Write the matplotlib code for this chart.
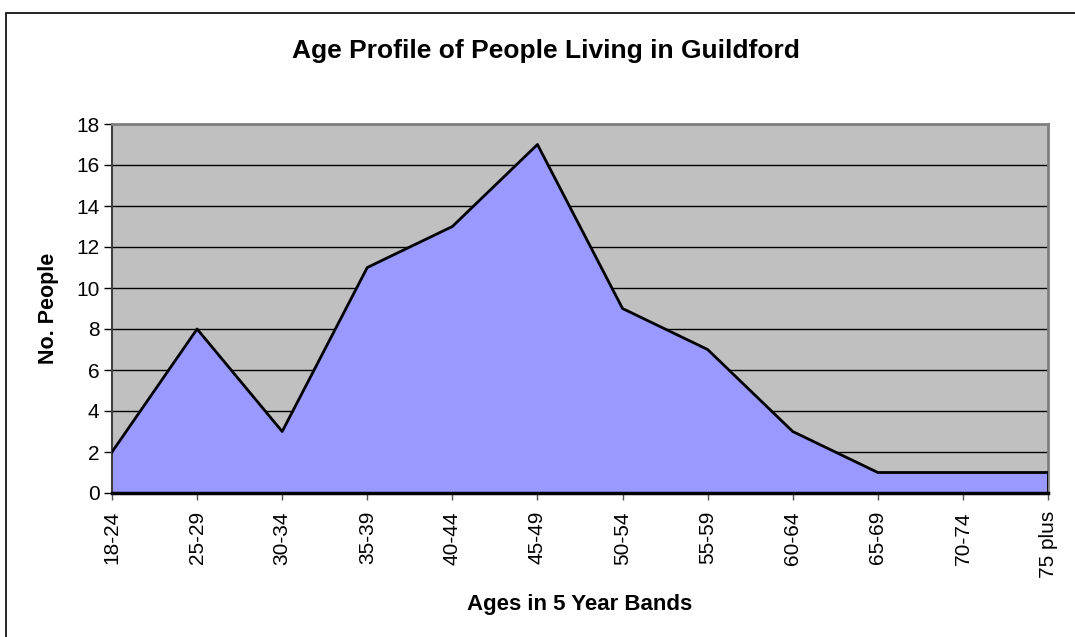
import matplotlib.pyplot as plt
from matplotlib.patches import Rectangle

plt.rcParams['font.family'] = ['Liberation Sans', 'DejaVu Sans']

age_bands = ['18-24', '25-29', '30-34', '35-39', '40-44', '45-49',
             '50-54', '55-59', '60-64', '65-69', '70-74', '75 plus']
people = [2, 8, 3, 11, 13, 17, 9, 7, 3, 1, 1, 1]
y_ticks = [0, 2, 4, 6, 8, 10, 12, 14, 16, 18]

fig = plt.figure(figsize=(10.75, 6.37), dpi=100)
ax = fig.add_axes([112 / 1075, 1 - 493 / 637, (1048 - 112) / 1075, (493 - 124) / 637])

# outer chart frame (runs off the right/bottom edge of the picture)
fig.patches.append(Rectangle((6 / 1075, -0.05), 1.2, 1 - 13 / 637 + 0.05,
                             transform=fig.transFigure, fill=False,
                             edgecolor='black', linewidth=1.2))

x = list(range(len(age_bands)))
ax.set_facecolor('#C0C0C0')
ax.fill_between(x, people, 0, color='#9999FF', zorder=2)
ax.plot(x, people, color='black', linewidth=2, zorder=3)
ax.plot([x[-1], x[-1]], [0, people[-1]], color='black', linewidth=2, zorder=3)

for yv in y_ticks[1:]:
    ax.axhline(yv, color='black', linewidth=1, zorder=1)

ax.set_xlim(0, len(age_bands) - 1)
ax.set_ylim(0, 18)
ax.set_yticks(y_ticks)
ax.set_xticks(x)
ax.set_xticklabels(age_bands, rotation=90, fontsize=15)
ax.tick_params(axis='y', labelsize=15, length=6, width=1, colors='black', pad=3)
ax.tick_params(axis='x', length=5, width=1, color='#555555', pad=8)

ax.spines['left'].set_color('#404040')
ax.spines['left'].set_linewidth(1.5)
ax.spines['bottom'].set_color('black')
ax.spines['bottom'].set_linewidth(2.5)
ax.spines['bottom'].set_zorder(4)
ax.spines['top'].set_color('#808080')
ax.spines['top'].set_linewidth(2)
ax.spines['right'].set_color('#808080')
ax.spines['right'].set_linewidth(2)

ax.set_ylabel('No. People', fontsize=15.5, fontweight='bold', labelpad=12)
ax.set_xlabel('Ages in 5 Year Bands', fontsize=16, fontweight='bold', labelpad=11)
fig.text(546 / 1075, 1 - 51 / 637, 'Age Profile of People Living in Guildford',
         ha='center', va='center', fontsize=19, fontweight='bold')

plt.savefig('out.png', dpi=100)
